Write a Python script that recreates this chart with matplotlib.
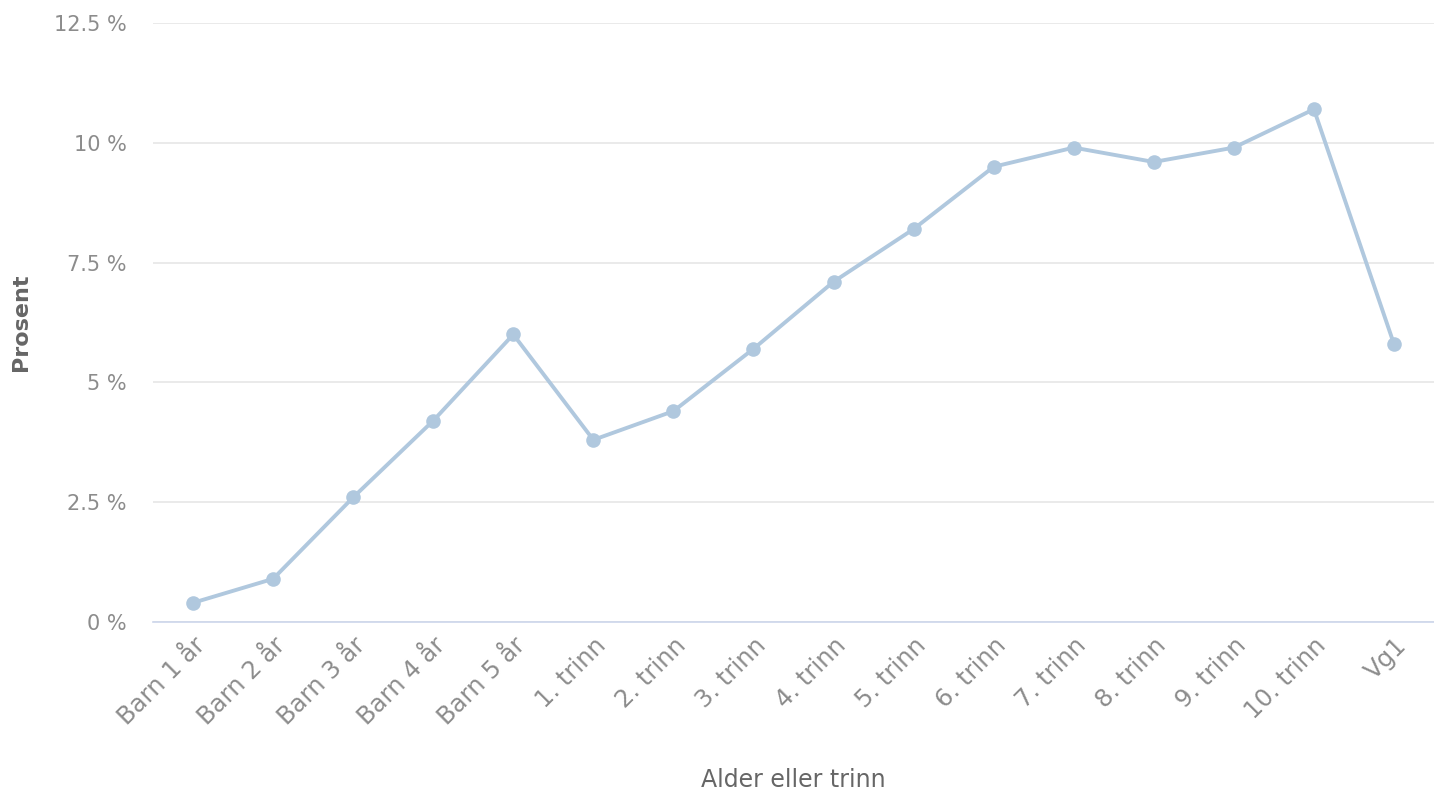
import matplotlib
matplotlib.use("Agg")
from matplotlib import pyplot as plt
import numpy as np

categories = ["Barn 1 år", "Barn 2 år", "Barn 3 år", "Barn 4 år", "Barn 5 år",
              "1. trinn", "2. trinn", "3. trinn", "4. trinn", "5. trinn",
              "6. trinn", "7. trinn", "8. trinn", "9. trinn", "10. trinn", "Vg1"]
values = [0.4, 0.9, 2.6, 4.2, 6.0, 3.8, 4.4, 5.7, 7.1, 8.2,
          9.5, 9.9, 9.6, 9.9, 10.7, 5.8]
yticks = [0, 2.5, 5, 7.5, 10, 12.5]
ytick_labels = ["0 %", "2.5 %", "5 %", "7.5 %", "10 %", "12.5 %"]

plt.rcParams['font.family'] = ['DejaVu Sans']

fig = plt.figure(figsize=(14.34, 7.91), dpi=100)
ax = fig.add_axes([0.1067, 0.2137, 0.8933, 0.7572])

x = np.arange(len(categories))
ax.plot(x, values, color="#b0c8de", linewidth=2.8, marker="o", markersize=10.5,
        markeredgewidth=0, zorder=3)

ax.set_xlim(-0.5, len(categories) - 0.5)
ax.set_ylim(0, 12.5)
ax.set_yticks(yticks)
ax.set_yticklabels(ytick_labels)
ax.set_xticks(x)
ax.set_xticklabels(categories, rotation=45, ha="right", rotation_mode="anchor")

ax.grid(axis="y", color="#e6e6e6", linewidth=1.2)
ax.set_axisbelow(True)
for s in ["top", "right", "left"]:
    ax.spines[s].set_visible(False)
ax.spines["bottom"].set_color("#ccd6eb")
ax.spines["bottom"].set_linewidth(1.2)
ax.spines["bottom"].set_zorder(2)

ax.tick_params(axis="y", length=0, pad=19, labelsize=15, labelcolor="#8c8c8c")
ax.tick_params(axis="x", length=0, pad=8, labelsize=17.5, labelcolor="#8c8c8c")

ax.set_ylabel("Prosent", fontsize=16, color="#666666", fontweight="bold")
ax.set_xlabel("Alder eller trinn", fontsize=17, color="#666666")
ax.yaxis.set_label_coords(-0.095, 0.5)
ax.xaxis.set_label_coords(0.5, -0.243)

fig.savefig("out.png", dpi=100)
